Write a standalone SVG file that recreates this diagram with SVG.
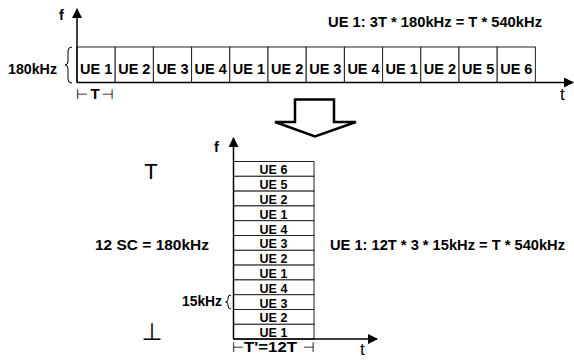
<svg xmlns="http://www.w3.org/2000/svg" width="574" height="362" viewBox="0 0 574 362">
<defs>
<style>
text{font-family:"Liberation Sans",Arial,sans-serif;fill:#000}
.b{font-weight:bold;font-size:14.5px}
.c{text-anchor:middle}
.s{font-weight:bold;font-size:12.5px;text-anchor:middle}
.cell{fill:#fff;stroke:#222;stroke-width:1}
.ax{stroke:#000;stroke-width:1.5;fill:none}
.sym{font-family:"DejaVu Sans",sans-serif;font-size:14px;text-anchor:middle}
</style>
<marker id="ah" viewBox="0 0 10 10" refX="9" refY="5" markerWidth="10" markerHeight="10" markerUnits="userSpaceOnUse" orient="auto">
<path d="M0,0 L10,5 L0,10 z" fill="#000"/>
</marker>
</defs>
<rect width="574" height="362" fill="#fff"/>

<g id="top-grid">
<rect class="cell" x="77" y="47" width="38.2" height="35.5"/>
<rect class="cell" x="115.2" y="47" width="38.2" height="35.5"/>
<rect class="cell" x="153.4" y="47" width="38.2" height="35.5"/>
<rect class="cell" x="191.6" y="47" width="38.2" height="35.5"/>
<rect class="cell" x="229.8" y="47" width="38.2" height="35.5"/>
<rect class="cell" x="268" y="47" width="38.2" height="35.5"/>
<rect class="cell" x="306.2" y="47" width="38.2" height="35.5"/>
<rect class="cell" x="344.4" y="47" width="38.2" height="35.5"/>
<rect class="cell" x="382.6" y="47" width="38.2" height="35.5"/>
<rect class="cell" x="420.8" y="47" width="38.2" height="35.5"/>
<rect class="cell" x="459" y="47" width="38.2" height="35.5"/>
<rect class="cell" x="497.2" y="47" width="38.2" height="35.5"/>
<text class="b c" x="96.1" y="74">UE 1</text>
<text class="b c" x="134.3" y="74">UE 2</text>
<text class="b c" x="172.5" y="74">UE 3</text>
<text class="b c" x="210.7" y="74">UE 4</text>
<text class="b c" x="248.9" y="74">UE 1</text>
<text class="b c" x="287.1" y="74">UE 2</text>
<text class="b c" x="325.3" y="74">UE 3</text>
<text class="b c" x="363.5" y="74">UE 4</text>
<text class="b c" x="401.7" y="74">UE 1</text>
<text class="b c" x="439.9" y="74">UE 2</text>
<text class="b c" x="478.1" y="74">UE 5</text>
<text class="b c" x="516.3" y="74">UE 6</text>
</g>

<g id="top-axes">
<line class="ax" x1="77" y1="82.5" x2="77" y2="9" marker-end="url(#ah)"/>
<line class="ax" x1="77" y1="82.5" x2="573" y2="82.5" marker-end="url(#ah)"/>
<text class="b" x="59" y="20">f</text>
<text x="560" y="100" style="font-size:17px">t</text>
</g>

<g id="top-bandwidth">
<text class="b" x="8" y="74" textLength="49" lengthAdjust="spacingAndGlyphs">180kHz</text>
<path d="M72,47 Q68,47 68,51 L68,61 Q68,65 65,65 Q68,65 68,69 L68,79 Q68,83 72,83" fill="none" stroke="#000" stroke-width="1"/>
</g>

<g id="top-period">
<text class="sym" x="82" y="98.5">⊢</text>
<text class="b c" x="95" y="99" style="font-size:15px">T</text>
<text class="sym" x="107.5" y="98.5">⊣</text>
</g>

<g id="top-formula">
<text class="b" x="328" y="27" textLength="214" lengthAdjust="spacingAndGlyphs">UE 1: 3T * 180kHz = T * 540kHz</text>
</g>

<g id="big-arrow">
<polygon points="295,99.5 334,99.5 334,122 356,122 315,136.5 275,122 295,122" fill="#fff" stroke="#000" stroke-width="2.5" stroke-linejoin="miter"/>
</g>

<g id="bottom-grid">
<rect class="cell" x="233.5" y="161.5" width="80.5" height="14.8"/>
<rect class="cell" x="233.5" y="176.3" width="80.5" height="14.8"/>
<rect class="cell" x="233.5" y="191.1" width="80.5" height="14.8"/>
<rect class="cell" x="233.5" y="205.9" width="80.5" height="14.8"/>
<rect class="cell" x="233.5" y="220.7" width="80.5" height="14.8"/>
<rect class="cell" x="233.5" y="235.5" width="80.5" height="14.8"/>
<rect class="cell" x="233.5" y="250.3" width="80.5" height="14.8"/>
<rect class="cell" x="233.5" y="265.1" width="80.5" height="14.8"/>
<rect class="cell" x="233.5" y="279.9" width="80.5" height="14.8"/>
<rect class="cell" x="233.5" y="294.7" width="80.5" height="14.8"/>
<rect class="cell" x="233.5" y="309.5" width="80.5" height="14.8"/>
<rect class="cell" x="233.5" y="324.3" width="80.5" height="14.8"/>
<text class="s" x="273.5" y="174.3">UE 6</text>
<text class="s" x="273.5" y="189.1">UE 5</text>
<text class="s" x="273.5" y="203.9">UE 2</text>
<text class="s" x="273.5" y="218.7">UE 1</text>
<text class="s" x="273.5" y="233.5">UE 4</text>
<text class="s" x="273.5" y="248.3">UE 3</text>
<text class="s" x="273.5" y="263.1">UE 2</text>
<text class="s" x="273.5" y="277.9">UE 1</text>
<text class="s" x="273.5" y="292.7">UE 4</text>
<text class="s" x="273.5" y="307.5">UE 3</text>
<text class="s" x="273.5" y="322.3">UE 2</text>
<text class="s" x="273.5" y="337.1">UE 1</text>
</g>

<g id="bottom-axes">
<line class="ax" x1="233.5" y1="339.1" x2="233.5" y2="138" marker-end="url(#ah)"/>
<line class="ax" x1="233.5" y1="339.1" x2="377" y2="339.1" marker-end="url(#ah)"/>
<text class="b" x="214" y="152">f</text>
<text x="360" y="355" style="font-size:17px">t</text>
</g>

<g id="bottom-period">
<text class="sym" x="238" y="351.5">⊢</text>
<text class="b" x="244" y="352" textLength="53" lengthAdjust="spacingAndGlyphs">T'=12T</text>
<text class="sym" x="308.5" y="351.5">⊣</text>
</g>

<g id="subcarrier">
<text class="b" x="182" y="306" textLength="40" lengthAdjust="spacingAndGlyphs">15kHz</text>
<path d="M231,295 Q228,295 228,298 L228,299.5 Q228,302 225.5,302 Q228,302 228,304.5 L228,306 Q228,309 231,309" fill="none" stroke="#000" stroke-width="1"/>
</g>

<g id="bandwidth-label">
<text class="b" x="95" y="250" textLength="114" lengthAdjust="spacingAndGlyphs">12 SC = 180kHz</text>
</g>

<g id="bottom-formula">
<text class="b" x="330" y="250" textLength="235" lengthAdjust="spacingAndGlyphs">UE 1: 12T * 3 * 15kHz = T * 540kHz</text>
</g>

<g id="span-marks">
<text x="151" y="179" style="font-size:22px;text-anchor:middle">T</text>
<text x="152" y="340" style="font-family:'DejaVu Sans',sans-serif;font-size:24px;text-anchor:middle">⊥</text>
</g>
</svg>
